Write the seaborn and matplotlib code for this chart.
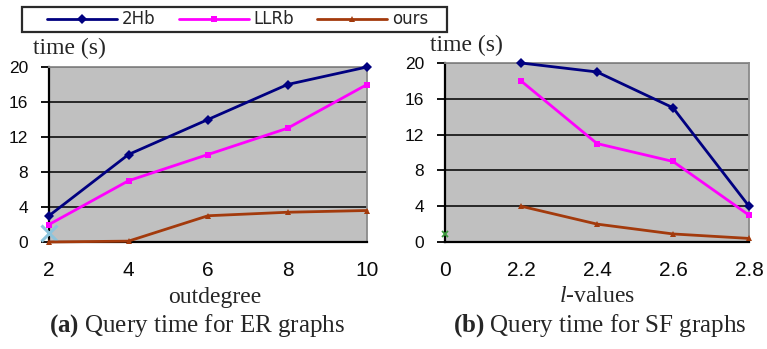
import pandas as pd
import seaborn as sns
import matplotlib.pyplot as plt
from matplotlib.patches import Rectangle

# (a) query time for ER graphs
er_outdegree = [2, 4, 6, 8, 10]
er_2hb = [3, 10, 14, 18, 20]
er_llrb = [2, 7, 10, 13, 18]
er_ours = [0, 0.1, 3, 3.4, 3.6]

# (b) query time for SF graphs, x axis is categorical
sf_categories = ['0', '2.2', '2.4', '2.6', '2.8']
sf_lvalues = ['2.2', '2.4', '2.6', '2.8']
sf_2hb = [20, 19, 15, 4]
sf_llrb = [18, 11, 9, 3]
sf_ours = [4, 2, 0.9, 0.4]

# stray single points left over in the original spreadsheet charts
er_stray_x = [2]
er_stray_y = [1.0]
sf_stray_x = ['0']
sf_stray_y = [0.9]

methods = ['2Hb', 'LLRb', 'ours']
palette = {'2Hb': '#000080', 'LLRb': '#FF00FF', 'ours': '#A33A0C'}
markers = {'2Hb': 'D', 'LLRb': 's', 'ours': '^'}
yticks = [0, 4, 8, 12, 16, 20]

sns.set_theme(style='white')
plt.rcParams['mathtext.fontset'] = 'custom'
plt.rcParams['mathtext.rm'] = 'Liberation Serif'
plt.rcParams['mathtext.it'] = 'Liberation Serif:italic'
plt.rcParams['mathtext.bf'] = 'Liberation Serif:bold'

W, H = 767, 349
fig = plt.figure(figsize=(W / 100, H / 100), dpi=100)
fig.patch.set_facecolor('white')
ax1 = fig.add_axes([49 / W, 1 - 242 / H, 318 / W, 175 / H])
ax2 = fig.add_axes([445 / W, 1 - 242 / H, 304 / W, 179 / H])

er_df = pd.DataFrame({
    'x': er_outdegree * 3,
    'time': er_2hb + er_llrb + er_ours,
    'method': [m for m in methods for _ in er_outdegree],
})
sf_pos = [sf_categories.index(v) for v in sf_lvalues]
sf_df = pd.DataFrame({
    'x': sf_pos * 3,
    'time': sf_2hb + sf_llrb + sf_ours,
    'method': [m for m in methods for _ in sf_lvalues],
})

for ax, df in [(ax1, er_df), (ax2, sf_df)]:
    sns.lineplot(data=df, x='x', y='time', hue='method', style='method',
                 palette=palette, markers=markers, dashes=False, ax=ax,
                 legend=False, linewidth=2.0, markersize=5,
                 markeredgewidth=0, clip_on=False, zorder=3)
    ax.set_facecolor('#C0C0C0')
    ax.set_ylim(0, 20)
    ax.set_yticks(yticks)
    for y in yticks[1:]:
        ax.axhline(y, color='#1c1c1c', lw=1.3, zorder=1)
    for side in ['left', 'bottom']:
        ax.spines[side].set_color('black')
        ax.spines[side].set_linewidth(1.6)
    for side in ['top', 'right']:
        ax.spines[side].set_color('#8a8a8a')
        ax.spines[side].set_linewidth(1.3)
    ax.tick_params(axis='y', left=True, length=6, width=1.3, color='black',
                   pad=9, labelsize=12.5, labelcolor='#0a0a0a')
    ax.tick_params(axis='x', bottom=False, pad=8, labelsize=15,
                   labelcolor='#0a0a0a')
    ax.set_ylabel('time (s)', rotation=0, fontfamily='Liberation Serif',
                  fontsize=17, ha='left', va='center')

ax1.plot(er_stray_x, er_stray_y, linestyle='none', marker='x', color='#8cc4dc',
         markersize=12, markeredgewidth=2.2, clip_on=False, zorder=2.6)
ax2.plot([sf_categories.index(v) for v in sf_stray_x], sf_stray_y,
         linestyle='none', marker='x', color='#3c9a3c', markersize=5,
         markeredgewidth=1.3, clip_on=False, zorder=2.6)

ax1.set_xlim(2, 10)
ax1.set_xticks(er_outdegree)
ax2.set_xlim(0, len(sf_categories) - 1)
ax2.set_xticks(range(len(sf_categories)), sf_categories)
for ax in [ax1, ax2]:
    for lab in ax.get_xticklabels() + ax.get_yticklabels():
        lab.set_fontfamily('Liberation Sans')

ax1.yaxis.set_label_coords((33 - 49) / 318, (242 - 48) / 175)
ax2.yaxis.set_label_coords((430 - 445) / 304, (242 - 45) / 179)

ax1.set_xlabel('outdegree', fontfamily='Liberation Serif', fontsize=17)
ax1.xaxis.set_label_coords((215 - 49) / 318, (242 - 297) / 175)
ax2.set_xlabel(r'$\mathit{l}$-values', fontfamily='Liberation Serif', fontsize=17)
ax2.xaxis.set_label_coords((597 - 445) / 304, (242 - 297) / 179)
for ax in [ax1, ax2]:
    ax.xaxis.label.set_va('center')

fig.text(197 / W, 1 - 326 / H, r'$\mathbf{(a)}$ Query time for ER graphs',
         fontfamily='Liberation Serif', fontsize=18, ha='center', va='center')
fig.text(600 / W, 1 - 326 / H, r'$\mathbf{(b)}$ Query time for SF graphs',
         fontfamily='Liberation Serif', fontsize=18, ha='center', va='center')

# legend across the top, frame drawn separately
fig.patches.append(Rectangle((22 / W, 1 - 32 / H), 425 / W, 25 / H,
                             transform=fig.transFigure, fill=True,
                             facecolor='white', edgecolor='#2a2a2a', lw=1.6))
handles = ax1.get_lines()[:3]
fig.legend(handles, methods, loc='center left', ncol=3, frameon=False,
           bbox_to_anchor=(47 / W, 1 - 19.5 / H), borderpad=0, borderaxespad=0,
           handlelength=4.2, handletextpad=0.3, columnspacing=1.38,
           prop={'family': 'DejaVu Sans', 'size': 12})

fig.savefig('out.png', dpi=100)
